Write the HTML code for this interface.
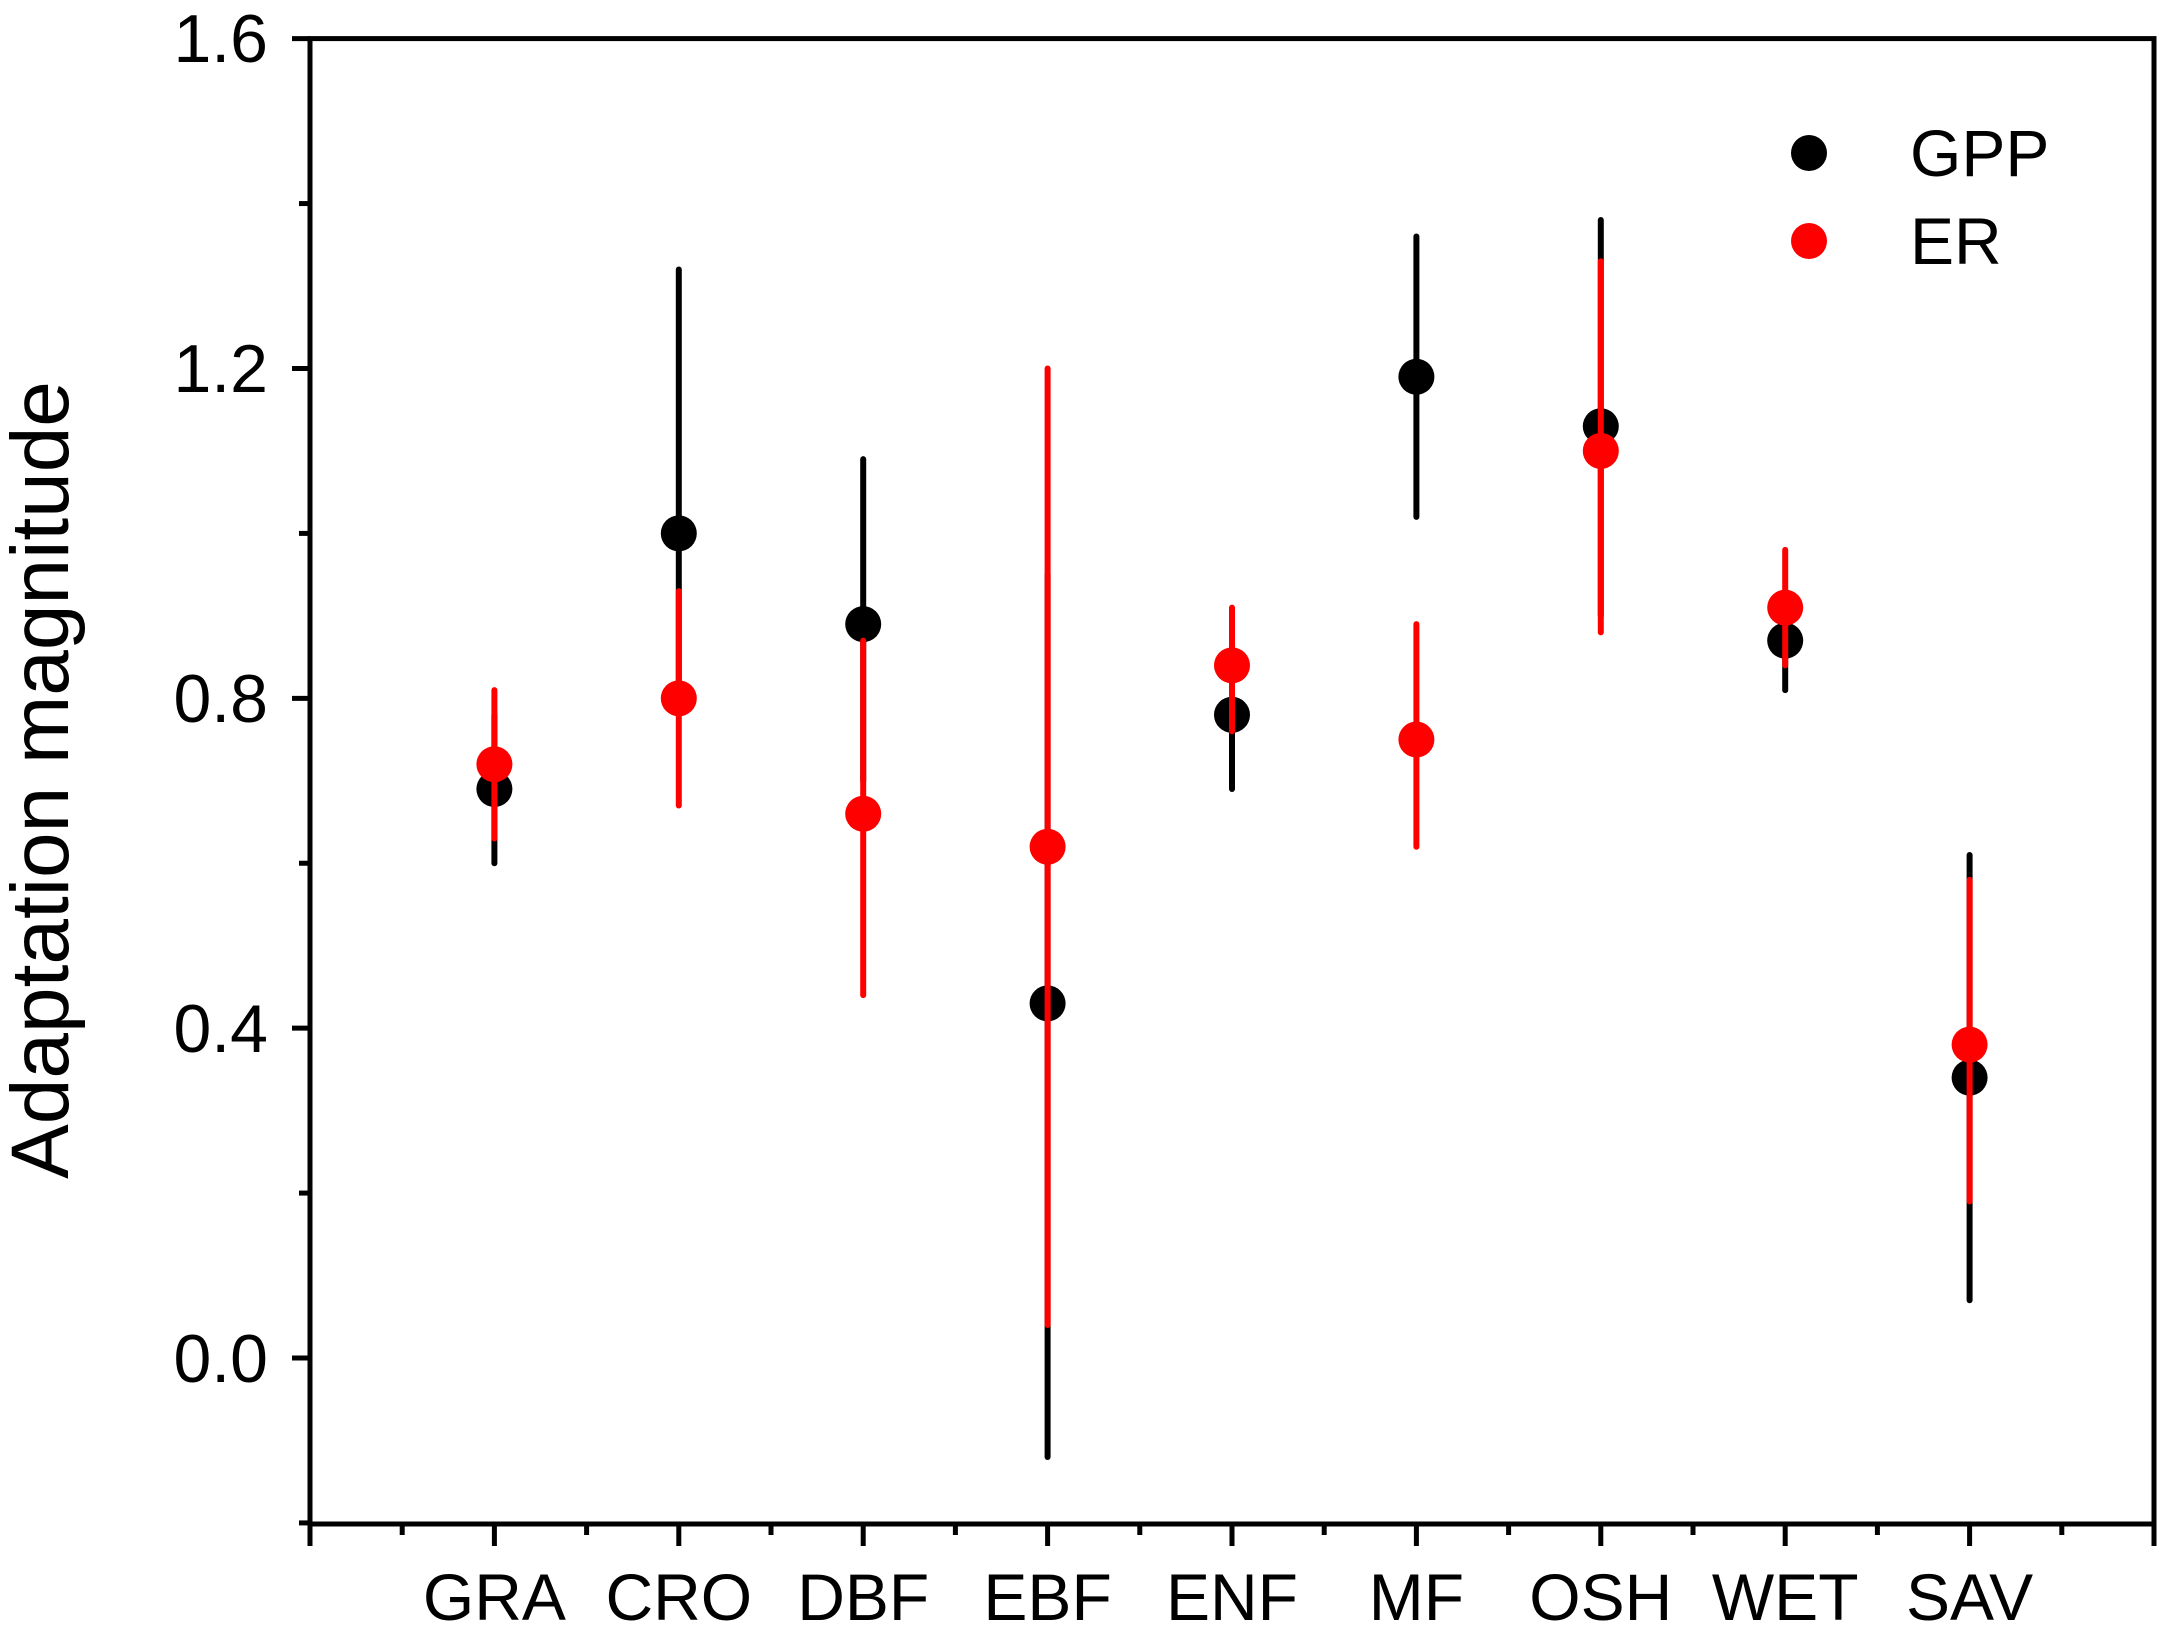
<!DOCTYPE html>
<html><head><meta charset="utf-8"><style>
html,body{margin:0;padding:0;background:#fff;}
svg{display:block;font-family:"Liberation Sans",Arial,sans-serif;}
</style></head><body>
<svg id="s" width="2162" height="1630" viewBox="0 0 2162 1630" xmlns="http://www.w3.org/2000/svg">
<rect width="2162" height="1630" fill="#fff"/>
<g id="data"></g>
<g stroke="#000" stroke-width="5" fill="none">
<rect x="310" y="38.6" width="1844" height="1485.4"/>
</g>
<g id="ticks" stroke="#000" stroke-width="5"></g>
<g font-size="68" fill="#000" text-anchor="end">
<text x="268" y="62">1.6</text>
<text x="268" y="392">1.2</text>
<text x="268" y="722">0.8</text>
<text x="268" y="1052">0.4</text>
<text x="268" y="1382">0.0</text>
</g>
<g font-size="66" fill="#000" text-anchor="middle">
<text x="494.4" y="1620">GRA</text>
<text x="678.8" y="1620">CRO</text>
<text x="863.2" y="1620">DBF</text>
<text x="1047.6" y="1620">EBF</text>
<text x="1232" y="1620">ENF</text>
<text x="1416.4" y="1620">MF</text>
<text x="1600.8" y="1620">OSH</text>
<text x="1785.2" y="1620">WET</text>
<text x="1969.6" y="1620">SAV</text>
</g>
<text transform="translate(68,780) rotate(-90)" font-size="82" text-anchor="middle" fill="#000">Adaptation magnitude</text>
<circle cx="1809" cy="153" r="18" fill="#000"/>
<circle cx="1809" cy="241" r="18" fill="#f00"/>
<text x="1910" y="176" font-size="66" fill="#000">GPP</text>
<text x="1910" y="264" font-size="66" fill="#000">ER</text>
</svg>
<script>
var NS="http://www.w3.org/2000/svg";
function Y(v){return 1358-824.6*v;}
function X(i){return 310+184.4*i;}
var t=document.getElementById('ticks');
function L(x1,y1,x2,y2){var l=document.createElementNS(NS,'line');l.setAttribute('x1',x1);l.setAttribute('y1',y1);l.setAttribute('x2',x2);l.setAttribute('y2',y2);t.appendChild(l);}
[1.6,1.2,0.8,0.4,0].forEach(function(v){L(292,Y(v),310,Y(v));});
[1.4,1.0,0.6,0.2,-0.2].forEach(function(v){L(299,Y(v),310,Y(v));});
for(var i=0;i<=10;i++){L(X(i),1524,X(i),1546);if(i<10)L(X(i+0.5),1524,X(i+0.5),1535);}
var gpp=[[0.69,0.60,0.78],[1.00,0.80,1.32],[0.89,0.70,1.09],[0.43,-0.12,0.95],[0.78,0.69,0.88],[1.19,1.02,1.36],[1.13,0.90,1.38],[0.87,0.81,0.93],[0.34,0.07,0.61]];
var er=[[0.72,0.63,0.81],[0.80,0.67,0.93],[0.66,0.44,0.87],[0.62,0.04,1.20],[0.84,0.76,0.91],[0.75,0.62,0.89],[1.10,0.88,1.33],[0.91,0.84,0.98],[0.38,0.19,0.58]];
var d=document.getElementById('data');
function draw(arr,col){arr.forEach(function(p,k){var x=X(k+1);
var l=document.createElementNS(NS,'line');l.setAttribute('x1',x);l.setAttribute('x2',x);l.setAttribute('y1',Y(p[1]));l.setAttribute('y2',Y(p[2]));l.setAttribute('stroke',col);l.setAttribute('stroke-width','6');l.setAttribute('stroke-linecap','round');d.appendChild(l);
var c=document.createElementNS(NS,'circle');c.setAttribute('cx',x);c.setAttribute('cy',Y(p[0]));c.setAttribute('r','18');c.setAttribute('fill',col);d.appendChild(c);});}
draw(gpp,'#000');draw(er,'#f00');
</script>
</body></html>
